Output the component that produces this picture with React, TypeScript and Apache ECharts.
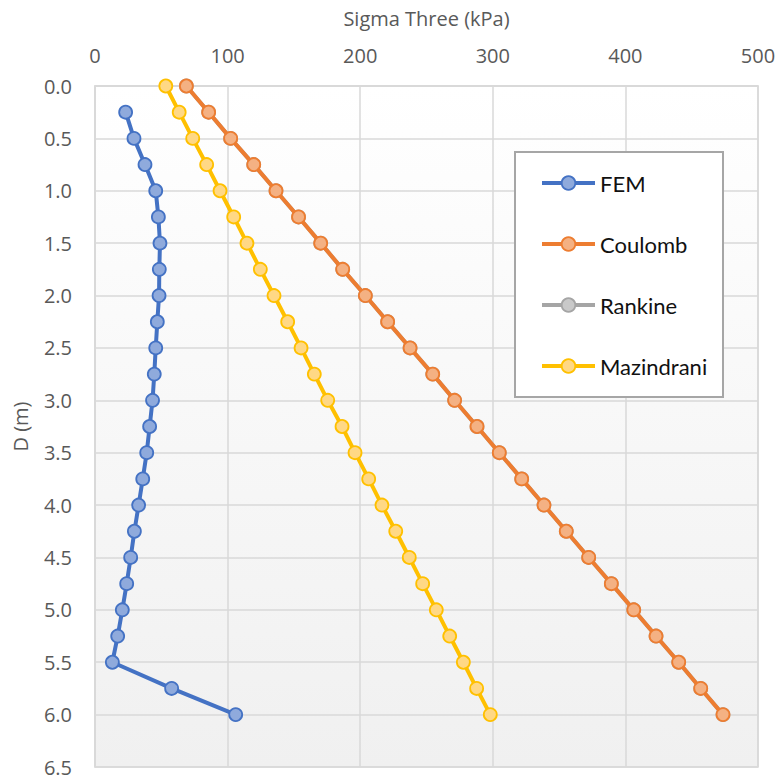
import React, { useEffect, useRef } from "react";
import * as echarts from "echarts";

const depthFEM = [0.25, 0.5, 0.75, 1.0, 1.25, 1.5, 1.75, 2.0, 2.25, 2.5, 2.75, 3.0, 3.25, 3.5, 3.75, 4.0, 4.25, 4.5, 4.75, 5.0, 5.25, 5.5, 5.75, 6.0];
const sigmaFEM = [23.1, 29.4, 37.7, 45.8, 47.8, 49.0, 48.5, 48.3, 47.0, 45.8, 44.7, 43.4, 41.2, 39.0, 36.0, 32.9, 29.7, 26.9, 23.9, 20.6, 17.1, 13.1, 57.8, 106.1];

const depthTheory = [0, 0.25, 0.5, 0.75, 1.0, 1.25, 1.5, 1.75, 2.0, 2.25, 2.5, 2.75, 3.0, 3.25, 3.5, 3.75, 4.0, 4.25, 4.5, 4.75, 5.0, 5.25, 5.5, 5.75, 6.0];
const sigmaCoulomb = [68.9, 85.7, 102.3, 119.7, 136.5, 153.5, 170.2, 186.8, 203.9, 220.7, 237.6, 254.7, 271.2, 288.1, 304.9, 321.8, 338.6, 355.4, 372.3, 389.4, 406.3, 423.1, 440.2, 456.8, 473.6];
const sigmaRankine = [68.9, 85.7, 102.3, 119.7, 136.5, 153.5, 170.2, 186.8, 203.9, 220.7, 237.6, 254.7, 271.2, 288.1, 304.9, 321.8, 338.6, 355.4, 372.3, 389.4, 406.3, 423.1, 440.2, 456.8, 473.6];
const sigmaMazindrani = [53.4, 63.5, 73.7, 84.2, 94.3, 104.6, 114.6, 124.7, 135.0, 145.3, 155.4, 165.4, 175.5, 186.3, 196.1, 206.4, 216.4, 226.8, 237.0, 247.1, 257.4, 267.5, 277.8, 287.8, 298.1];

const seriesNames = ["FEM", "Coulomb", "Rankine", "Mazindrani"];
const xTicks = { min: 0, max: 500, interval: 100 };
const yTicks = { min: 0, max: 6.5, interval: 0.5 };

const pairs = (xs: number[], ds: number[]) => ds.map((d, i) => [xs[i], d]);

export default function App() {
  const ref = useRef<HTMLDivElement>(null);
  useEffect(() => {
    if (!ref.current) return;
    const chart = echarts.init(ref.current, undefined, { renderer: "svg" });
    const mk = (name: string, data: number[][], line: string, fill: string, z: number) => ({
      name,
      type: "line",
      data,
      z,
      symbol: "circle",
      symbolSize: 13,
      showSymbol: true,
      lineStyle: { color: line, width: 4 },
      itemStyle: { color: fill, borderColor: line, borderWidth: 1.8 },
      emphasis: { disabled: true },
    });
    const axisFont = { fontFamily: "Open Sans", fontSize: 20, color: "#595959" };
    chart.setOption({
      animation: false,
      backgroundColor: "#ffffff",
      grid: {
        left: 95,
        top: 86,
        right: 20,
        bottom: 12,
        show: true,
        outerBoundsMode: "none",
        containLabel: false,
        borderColor: "#D9D9D9",
        borderWidth: 1.5,
        backgroundColor: new echarts.graphic.LinearGradient(0, 0, 0, 1, [
          { offset: 0, color: "#FFFFFF" },
          { offset: 1, color: "#F0F0F0" },
        ]),
      },
      xAxis: {
        type: "value",
        position: "top",
        min: xTicks.min,
        max: xTicks.max,
        interval: xTicks.interval,
        name: "Sigma Three (kPa)",
        nameLocation: "middle",
        nameGap: 58,
        nameTextStyle: axisFont,
        axisLine: { show: true, lineStyle: { color: "#D9D9D9", width: 1.5 } },
        axisTick: { show: false },
        axisLabel: { ...axisFont, margin: 21 },
        splitLine: { show: true, lineStyle: { color: "#D9D9D9", width: 1.5 } },
      },
      yAxis: {
        type: "value",
        inverse: true,
        min: yTicks.min,
        max: yTicks.max,
        interval: yTicks.interval,
        name: "D (m)",
        nameLocation: "middle",
        nameGap: 65,
        nameTextStyle: axisFont,
        axisLine: { show: true, lineStyle: { color: "#D9D9D9", width: 1.5 } },
        axisTick: { show: false },
        axisLabel: { ...axisFont, lineHeight: 18, margin: 23, formatter: (v: number) => v.toFixed(1) },
        splitLine: { show: true, lineStyle: { color: "#D9D9D9", width: 1.5 } },
      },
      legend: {
        orient: "vertical",
        left: 540,
        top: 172,
        padding: 0,
        itemWidth: 53,
        itemHeight: 17,
        itemGap: 39,
        data: seriesNames,
        lineStyle: { width: 4 },
        itemStyle: { borderWidth: 1.8 },
        textStyle: { fontFamily: "Lato", fontSize: 22, color: "#111111" },
        z: 5,
      },
      graphic: [
        {
          type: "rect",
          z: 3,
          shape: { x: 515, y: 152, width: 208, height: 245 },
          style: { fill: "#ffffff", stroke: "#A6A6A6", lineWidth: 2 },
        },
      ],
      series: [
        mk(seriesNames[0], pairs(sigmaFEM, depthFEM), "#4472C4", "#8FAADC", 2),
        mk(seriesNames[1], pairs(sigmaCoulomb, depthTheory), "#ED7D31", "#F4B183", 2),
        mk(seriesNames[2], pairs(sigmaRankine, depthTheory), "#A5A5A5", "#C9C9C9", 1),
        mk(seriesNames[3], pairs(sigmaMazindrani, depthTheory), "#FFC000", "#FFD885", 2),
      ],
    });
    return () => chart.dispose();
  }, []);
  return (
    <div
      ref={ref}
      style={{ position: "fixed", left: 0, top: 0, width: 778, height: 779 }}
    />
  );
}
